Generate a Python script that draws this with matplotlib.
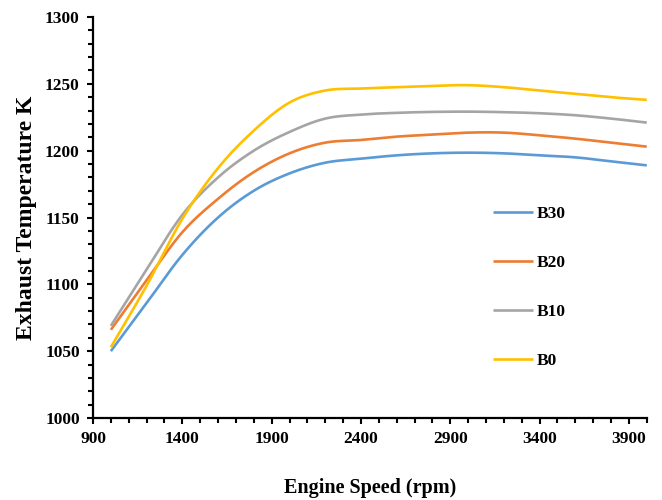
import matplotlib
matplotlib.use('Agg')
import matplotlib.pyplot as plt
import numpy as np
from matplotlib.ticker import MultipleLocator

# engine speed (rpm) and exhaust temperature (K)
speed = [1000, 1200, 1400, 1600, 1800, 2000, 2200, 2400, 2600, 2800, 3000, 3200, 3400, 3600, 3800, 4000]
b30 = [1050, 1086, 1122, 1150, 1170, 1183, 1191, 1194, 1196.5, 1198, 1198.5, 1198, 1196.5, 1195, 1192, 1189]
b20 = [1066, 1103, 1139, 1164, 1184, 1198, 1206, 1208, 1210.5, 1212, 1213.5, 1213.5, 1211.5, 1209, 1206, 1203]
b10 = [1069, 1111, 1152, 1180, 1200, 1214, 1224, 1227, 1228.3, 1229, 1229.2, 1228.8, 1228, 1226.5, 1224, 1221]
b0 = [1053, 1099, 1149, 1187, 1215, 1236, 1245, 1246.5, 1247.5, 1248.5, 1249, 1247.5, 1245, 1242.5, 1240, 1238]
xticks = [900, 1400, 1900, 2400, 2900, 3400, 3900]

series_names = ['B30', 'B20', 'B10', 'B0']
series_colors = ['#5B9BD5', '#ED7D31', '#A5A5A5', '#FFC000']


def smooth(x, y, n=20):
    # catmull-rom, like the excel "smoothed line" option
    x = np.asarray(x, float)
    y = np.asarray(y, float)
    px = np.concatenate([[2 * x[0] - x[1]], x, [2 * x[-1] - x[-2]]])
    py = np.concatenate([[2 * y[0] - y[1]], y, [2 * y[-1] - y[-2]]])
    t = np.linspace(0, 1, n, endpoint=False)[:, None]
    xs, ys = [], []
    for i in range(1, len(px) - 2):
        for p, out in ((px, xs), (py, ys)):
            p0, p1, p2, p3 = p[i - 1], p[i], p[i + 1], p[i + 2]
            out.append((0.5 * (2 * p1 + (-p0 + p2) * t + (2 * p0 - 5 * p1 + 4 * p2 - p3) * t ** 2
                               + (-p0 + 3 * p1 - 3 * p2 + p3) * t ** 3)).ravel())
    xs.append([x[-1]])
    ys.append([y[-1]])
    return np.concatenate(xs), np.concatenate(ys)


plt.rcParams['font.family'] = ['Liberation Serif', 'DejaVu Serif']
plt.rcParams['font.weight'] = 'bold'

fig = plt.figure(figsize=(6.62, 5.0), dpi=100)
ax = fig.add_axes([0.1405, 0.164, 0.8365, 0.802])

for vals, name, col in zip([b30, b20, b10, b0], series_names, series_colors):
    sx, sy = smooth(speed, vals)
    ax.plot(sx, sy, color=col, lw=1.9, label=name, solid_capstyle='butt')

ax.set_xlim(900, 4000)
ax.set_ylim(1000, 1300)
ax.set_xticks(xticks)
ax.xaxis.set_minor_locator(MultipleLocator(100))
ax.yaxis.set_major_locator(MultipleLocator(50))
ax.yaxis.set_minor_locator(MultipleLocator(10))

for s in ['top', 'right']:
    ax.spines[s].set_visible(False)
for s in ['left', 'bottom']:
    ax.spines[s].set_linewidth(1.6)
ax.tick_params(which='major', length=4.5, width=1.5, labelsize=12.5, pad=5, direction='out')
ax.tick_params(which='minor', length=3.5, width=1.5, direction='out')
for lab in ax.get_xticklabels() + ax.get_yticklabels():
    lab.set_fontweight('bold')

ax.set_xlabel('Engine Speed (rpm)', fontsize=14.5, fontweight='bold', labelpad=22)
ax.set_ylabel('Exhaust Temperature K', fontsize=17, fontweight='bold', labelpad=6)

ax.legend(loc='upper left', bbox_to_anchor=(0.722, 0.53), frameon=False,
          prop={'size': 12.5, 'weight': 'bold'}, labelspacing=1.9,
          handlelength=2.3, handletextpad=0.2, borderpad=0, borderaxespad=0)

fig.savefig('out.png', dpi=100)
